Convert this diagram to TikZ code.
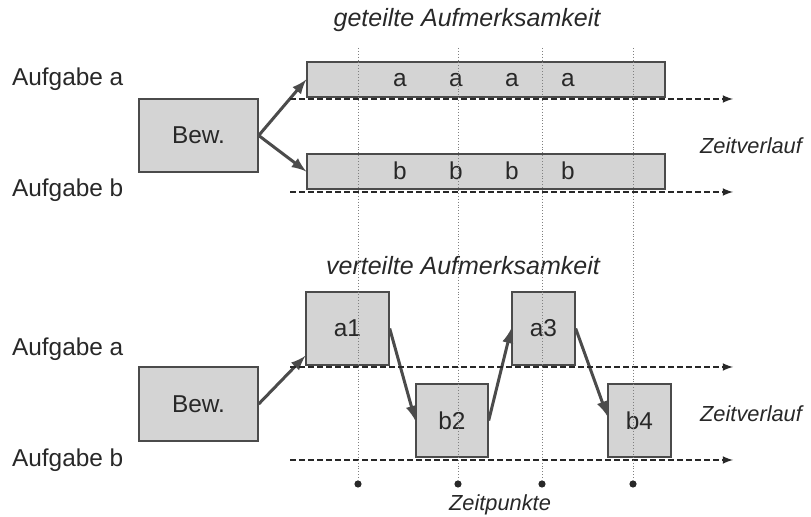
\documentclass[tikz,border=0pt]{standalone}
\usepackage{fontspec}
\setmainfont{Liberation Sans}
\usepackage{tikz}
\usetikzlibrary{arrows,positioning,fit}
\definecolor{boxgray}{RGB}{212,212,212}
\definecolor{linegray}{RGB}{75,75,75}
\definecolor{textgray}{RGB}{40,40,40}

\begin{document}
\begin{tikzpicture}[x=0.5pt,y=-0.5pt,
  font=\fontsize{12.2}{14}\selectfont, text=textgray,
  box/.style={draw=linegray, fill=boxgray, line width=0.7pt, inner sep=0pt},
  pfeil/.style={-latex, draw=linegray, line width=1.5pt},
  zeitachse/.style={-latex, draw=textgray, line width=0.75pt, dash pattern=on 3pt off 1.5pt},
  zeitlinie/.style={draw=gray, line width=0.45pt, densely dotted},
  punkt/.style={circle, fill=textgray, inner sep=0pt, minimum size=3.6pt},
  kursiv/.style={font=\fontsize{12.5}{15}\selectfont\itshape},
  kursivklein/.style={font=\fontsize{10.9}{13}\selectfont\itshape}]
\useasboundingbox (0,0) rectangle (811,517);

% geteilte Aufmerksamkeit
\node [kursiv] (titelA) at (467,20) {geteilte Aufmerksamkeit};
\node [anchor=west] (aufgA1) at (5,79) {Aufgabe a};
\node [anchor=west] (aufgB1) at (5,190) {Aufgabe b};
\node [box, fit={(139,99) (258,172)}, label=center:Bew.] (bewA) {};
\node [box, fit={(307,62) (665,97)}] (barA) {};
\node [box, fit={(307,154) (665,189)}] (barB) {};
\foreach \x in {400,456,512,568} {
  \node (a\x) at (\x,80) {a};
  \node (b\x) at (\x,171) {b};
}
\draw [pfeil] (bewA.east) -- (barA.west);
\draw [pfeil] (bewA.east) -- (barB.west);
\node [kursivklein, anchor=east] (verlauf1) at (809,146) {Zeitverlauf};

% verteilte Aufmerksamkeit
\node [kursiv] (titelB) at (463,266) {verteilte Aufmerksamkeit};
\node [anchor=west] (aufgA2) at (5,349) {Aufgabe a};
\node [anchor=west] (aufgB2) at (5,460) {Aufgabe b};
\node [box, fit={(139,367) (258,441)}, label=center:Bew.] (bewB) {};
\node [box, fit={(306,292) (389,365)}, label=center:a1] (a1) {};
\node [box, fit={(416,384) (488,457)}, label=center:b2] (b2) {};
\node [box, fit={(512,292) (575,365)}, label=center:a3] (a3) {};
\node [box, fit={(608,384) (671,457)}, label=center:b4] (b4) {};
\draw [pfeil] (bewB.east) -- (a1.213);
\draw [pfeil] (a1.east) -- (b2.west);
\draw [pfeil] (b2.east) -- (a3.west);
\draw [pfeil] (a3.east) -- (b4.172);
\node [kursivklein, anchor=east] (verlauf2) at (809,414) {Zeitverlauf};

% Zeitachsen
\foreach \y/\n in {99/1,192/2,367/3,460/4} {
  \coordinate (start\n) at (290,\y);
  \coordinate (ende\n) at (733,\y);
  \draw [zeitachse] (start\n) -- (ende\n);
}

% Zeitpunkte
\foreach \x/\n in {358/1,458/2,542/3,633/4} {
  \coordinate (oben\n) at (\x,48);
  \node [punkt] (punkt\n) at (\x,484) {};
  \draw [zeitlinie] (oben\n) -- (punkt\n);
}
\node [kursivklein] (zeitpunkte) at (500,505) {Zeitpunkte};
\end{tikzpicture}
\end{document}
